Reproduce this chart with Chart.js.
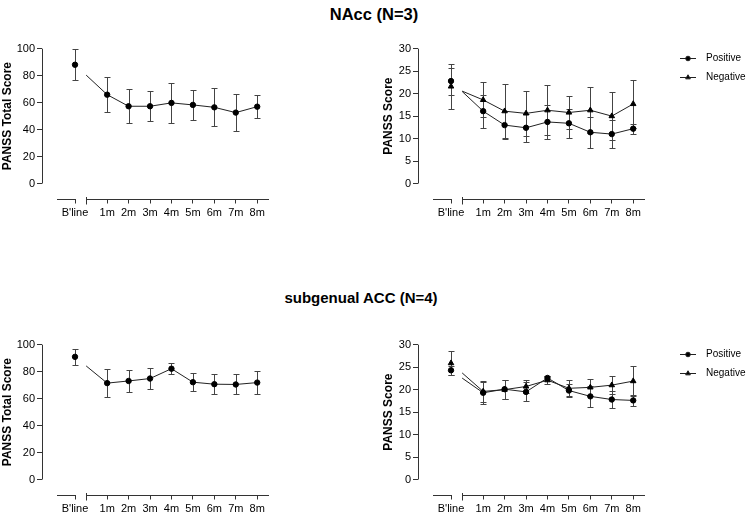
<!DOCTYPE html>
<html>
<head>
<meta charset="utf-8">
<script src="https://cdn.jsdelivr.net/npm/chart.js@4.4.0/dist/chart.umd.min.js"></script>
<style>
body { margin: 0; width: 748px; height: 516px; overflow: hidden; background: #fff; font-family: "Liberation Sans", Arial, sans-serif; }
canvas { position: absolute; }
.titulo { position: absolute; width: 300px; text-align: center; font-weight: bold; color: #000; white-space: nowrap; }
</style>
</head>
<body>
<div class="titulo" style="left:224px; top:5px; font-size:16.5px">NAcc (N=3)</div>
<div class="titulo" style="left:211px; top:289px; font-size:15px">subgenual ACC (N=4)</div>
<canvas id="naccTotalChart" style="left:0px; top:20px" width="300" height="200"></canvas>
<canvas id="naccSubChart" style="left:376px; top:20px" width="372" height="200"></canvas>
<canvas id="accTotalChart" style="left:0px; top:316px" width="300" height="200"></canvas>
<canvas id="accSubChart" style="left:376px; top:316px" width="372" height="200"></canvas>
<script>
Chart.defaults.font.family = '"Liberation Sans", Arial, sans-serif'
Chart.defaults.font.size = 11
Chart.defaults.color = '#000'

const meses = ["B'line", '1m', '2m', '3m', '4m', '5m', '6m', '7m', '8m']
// B'line fica antes da quebra do eixo x
const posicoes = [0, 1.5, 2.5, 3.5, 4.5, 5.5, 6.5, 7.5, 8.5]

// NAcc (N=3) - media e desvio
const naccTotal = [88.1, 65.9, 57.3, 57.3, 59.8, 58.3, 56.5, 52.6, 57.0]
const naccTotalDp = [11.6, 13.2, 12.6, 11.1, 14.6, 11.3, 14.2, 13.9, 8.5]
const naccPositivo = [22.8, 16.1, 13.0, 12.4, 13.7, 13.4, 11.4, 11.0, 12.2]
const naccPositivoDp = [3.0, 3.7, 3.2, 3.1, 3.7, 3.2, 3.5, 3.2, 1.1]
const naccNegativo = [21.6, 18.6, 16.1, 15.6, 16.3, 15.8, 16.3, 15.0, 17.7]
const naccNegativoDp = [5.1, 3.9, 6.0, 5.0, 5.6, 3.7, 5.1, 5.4, 5.4]

// subgenual ACC (N=4)
const accTotal = [91.0, 71.5, 73.1, 74.9, 82.2, 72.2, 70.7, 70.5, 71.9]
const accTotalDp = [5.8, 10.5, 8.0, 8.0, 4.3, 6.9, 7.6, 7.4, 8.5]
const accPositivo = [24.3, 19.3, 20.1, 19.5, 22.6, 19.8, 18.5, 17.8, 17.6]
const accPositivoDp = [1.0, 2.4, 2.1, 2.1, 0.5, 1.4, 2.3, 1.9, 1.2]
const accNegativo = [25.9, 19.6, 20.0, 20.7, 22.1, 20.3, 20.5, 21.0, 21.9]
const accNegativoDp = [2.7, 2.3, 2.1, 1.5, 0.9, 1.8, 1.9, 2.0, 3.4]

const ticksTotal = [0, 20, 40, 60, 80, 100]
const ticksSub = [0, 5, 10, 15, 20, 25, 30]

function pontos(valores) {
    return valores.map(function (v, i) { return { x: posicoes[i], y: v } })
}

function linhaPx(ctx, x1, y1, x2, y2) {
    ctx.beginPath()
    ctx.moveTo(x1, y1)
    ctx.lineTo(x2, y2)
    ctx.stroke()
}

// eixos com quebra, barras de erro, titulo do eixo y e legenda
const eixoQuebrado = {
    id: 'eixoQuebrado',
    beforeDatasetsDraw(chart, args, opts) {
        const ctx = chart.ctx
        const area = chart.chartArea
        const x = chart.scales.x
        const y = chart.scales.y
        ctx.save()
        ctx.strokeStyle = '#333'
        ctx.lineWidth = 1
        // eixo y so de 0 ate o maximo
        const xe = Math.round(area.left) + 0.5
        linhaPx(ctx, xe, y.getPixelForValue(0), xe, y.getPixelForValue(opts.yMax))
        // eixo x em dois pedacos
        const ye = Math.round(area.bottom) + 0.5
        linhaPx(ctx, x.getPixelForValue(-0.84), ye, Math.round(x.getPixelForValue(0)) + 0.5, ye)
        const xq = Math.round(x.getPixelForValue(0.52)) + 0.5
        linhaPx(ctx, xq, ye, area.right, ye)
        linhaPx(ctx, xq, ye - 2.5, xq, ye + 5)

        // barras de erro
        ctx.strokeStyle = '#444'
        chart.data.datasets.forEach(function (ds) {
            if (!ds.dp) return
            ds.data.forEach(function (p, i) {
                const px = Math.round(x.getPixelForValue(p.x)) + 0.5
                const yt = Math.round(y.getPixelForValue(p.y + ds.dp[i])) + 0.5
                const yb = Math.round(y.getPixelForValue(p.y - ds.dp[i])) + 0.5
                linhaPx(ctx, px, yt, px, yb)
                linhaPx(ctx, px - 3, yt, px + 3, yt)
                linhaPx(ctx, px - 3, yb, px + 3, yb)
            })
        })
        ctx.restore()
    },
    beforeDatasetDraw(chart, args) {
        const ds = chart.data.datasets[args.index]
        if (ds.quebra == null) return
        const ctx = chart.ctx
        ctx.save()
        ctx.beginPath()
        ctx.rect(chart.scales.x.getPixelForValue(ds.quebra), 0, chart.width, chart.height)
        ctx.clip()
    },
    afterDatasetDraw(chart, args) {
        const ds = chart.data.datasets[args.index]
        if (ds.quebra == null) return
        chart.ctx.restore()
    },
    afterDraw(chart, args, opts) {
        const ctx = chart.ctx
        const y = chart.scales.y
        const area = chart.chartArea
        ctx.save()
        ctx.fillStyle = '#000'
        // titulo do eixo y
        ctx.font = 'bold 12px "Liberation Sans", Arial, sans-serif'
        ctx.textAlign = 'center'
        ctx.textBaseline = 'middle'
        ctx.translate(opts.tituloX, (y.getPixelForValue(0) + y.getPixelForValue(opts.yMax)) / 2)
        ctx.rotate(-Math.PI / 2)
        ctx.fillText(opts.tituloY, 0, 0)
        ctx.restore()

        if (!opts.legenda) return
        ctx.save()
        ctx.font = '10px "Liberation Sans", Arial, sans-serif'
        ctx.textAlign = 'left'
        ctx.textBaseline = 'middle'
        ctx.strokeStyle = '#222'
        ctx.fillStyle = '#000'
        ctx.lineWidth = 1
        let linha = 0
        chart.data.datasets.forEach(function (ds) {
            if (!ds.label) return
            const ly = Math.round(area.top + 9.5 + linha * 19) + 0.5
            const lx = 312
            linhaPx(ctx, lx - 8, ly, lx + 8, ly)
            Chart.helpers.drawPoint(ctx, { pointStyle: ds.pointStyle, radius: ds.pointRadius * 0.85, rotation: 0, borderWidth: 1 }, lx, ly)
            ctx.fillStyle = '#000'
            ctx.fillText(ds.label, lx + 18, ly)
            linha++
        })
        ctx.restore()
    }
}

function montarGrafico(idCanvas, series, ticksY, tituloY, tituloX, legenda) {
    var canvas = document.getElementById(idCanvas)
    var yMax = ticksY[ticksY.length - 1]
    var yMin = -yMax * 15 / 134.8   // eixo x fica 15px abaixo do zero
    var datasets = []

    series.forEach(function (s) {
        datasets.push({
            label: s.nome,
            data: pontos(s.valores),
            dp: s.dp,
            showLine: false,
            pointStyle: s.simbolo,
            pointRadius: s.simbolo == 'triangle' ? 3.2 : 2.7,
            backgroundColor: '#000',
            borderColor: '#000',
            borderWidth: 1
        })
    })
    series.forEach(function (s) {
        datasets.push({
            data: pontos(s.valores),
            showLine: true,
            pointRadius: 0,
            borderColor: '#222',
            borderWidth: 1,
            quebra: 0.52
        })
    })

    return new Chart(canvas, {
        type: 'scatter',
        data: { datasets: datasets },
        options: {
            responsive: false,
            animation: false,
            events: [],
            layout: { padding: { top: 28.7, right: canvas.width - 269, left: 0, bottom: 0 } },
            scales: {
                x: {
                    type: 'linear',
                    min: -1.54,
                    max: 9.05,
                    afterBuildTicks: function (s) { s.ticks = posicoes.map(function (v) { return { value: v } }) },
                    afterFit: function (s) { s.height = canvas.height - 178.5 },
                    grid: { display: true, drawOnChartArea: false, drawTicks: true, tickLength: 5, color: '#333' },
                    border: { display: false },
                    ticks: {
                        autoSkip: false,
                        maxRotation: 0,
                        padding: 3,
                        callback: function (v, i) { return meses[i] }
                    }
                },
                y: {
                    min: yMin,
                    max: yMax,
                    afterBuildTicks: function (s) { s.ticks = ticksY.map(function (v) { return { value: v } }) },
                    afterFit: function (s) { s.width = 42 },
                    grid: { display: true, drawOnChartArea: false, drawTicks: true, tickLength: 5, color: '#333' },
                    border: { display: false },
                    ticks: { padding: 2 }
                }
            },
            plugins: {
                legend: { display: false },
                tooltip: { enabled: false },
                eixoQuebrado: { yMax: yMax, tituloY: tituloY, tituloX: tituloX, legenda: legenda }
            }
        },
        plugins: [eixoQuebrado]
    })
}

montarGrafico('naccTotalChart', [
    { nome: '', valores: naccTotal, dp: naccTotalDp, simbolo: 'circle' }
], ticksTotal, 'PANSS Total Score', 8, false)

montarGrafico('naccSubChart', [
    { nome: 'Positive', valores: naccPositivo, dp: naccPositivoDp, simbolo: 'circle' },
    { nome: 'Negative', valores: naccNegativo, dp: naccNegativoDp, simbolo: 'triangle' }
], ticksSub, 'PANSS Score', 12.5, true)

montarGrafico('accTotalChart', [
    { nome: '', valores: accTotal, dp: accTotalDp, simbolo: 'circle' }
], ticksTotal, 'PANSS Total Score', 8, false)

montarGrafico('accSubChart', [
    { nome: 'Positive', valores: accPositivo, dp: accPositivoDp, simbolo: 'circle' },
    { nome: 'Negative', valores: accNegativo, dp: accNegativoDp, simbolo: 'triangle' }
], ticksSub, 'PANSS Score', 12.5, true)
</script>
</body>
</html>
